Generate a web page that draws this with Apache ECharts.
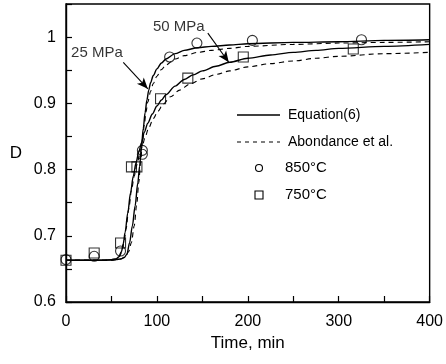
<!DOCTYPE html>
<html><head><meta charset="utf-8">
<script src="https://cdn.jsdelivr.net/npm/echarts@6/dist/echarts.min.js"></script>
<style>html,body{margin:0;padding:0;background:#fff}#c{width:446px;height:364px}</style>
</head><body><div id="c"></div>
<script>
// Equation(6) fits
const eq850 = [[0,0.663],[40,0.663],[50,0.6635],[55,0.664],[60,0.665],[64,0.667],[67,0.672],[70,0.69],[73,0.715],[76,0.745],[79,0.78],[81,0.805],[83,0.835],[85,0.862],[87,0.886],[89,0.905],[91,0.92],[93,0.931],[96,0.942],[100,0.952],[105,0.961],[110,0.967],[120,0.975],[130,0.980],[145,0.984],[160,0.986],[180,0.988],[200,0.990],[250,0.992],[300,0.993],[350,0.995],[400,0.996]];
const eq750 = [[0,0.663],[40,0.663],[50,0.664],[55,0.665],[58,0.668],[61,0.676],[63,0.688],[65,0.705],[68,0.735],[71,0.765],[74,0.79],[77,0.81],[80,0.826],[83,0.84],[86,0.856],[90,0.870],[95,0.884],[100,0.896],[105,0.905],[110,0.913],[120,0.926],[130,0.936],[140,0.943],[150,0.949],[165,0.956],[180,0.962],[200,0.968],[225,0.973],[250,0.977],[275,0.980],[300,0.983],[350,0.986],[400,0.989]];
// Abondance et al.
const ab850 = [[0,0.663],[50,0.663],[60,0.665],[65,0.668],[69,0.676],[72,0.69],[75,0.715],[78,0.75],[80,0.78],[82,0.81],[84,0.84],[86,0.866],[88,0.887],[90,0.902],[93,0.918],[96,0.93],[100,0.941],[105,0.951],[110,0.958],[120,0.967],[130,0.972],[145,0.977],[160,0.980],[180,0.983],[200,0.986],[250,0.989],[300,0.991],[350,0.992],[400,0.993]];
const ab750 = [[0,0.663],[45,0.663],[55,0.665],[59,0.669],[62,0.678],[64,0.692],[66,0.71],[69,0.74],[72,0.768],[75,0.79],[78,0.807],[81,0.822],[84,0.836],[87,0.849],[91,0.863],[96,0.877],[101,0.888],[107,0.899],[115,0.91],[125,0.92],[136,0.929],[150,0.937],[166,0.944],[180,0.949],[200,0.955],[225,0.960],[250,0.964],[275,0.968],[300,0.971],[350,0.975],[400,0.977]];
// Experimental points
const pts850 = [[0,0.664],[31,0.669],[60,0.677],[84,0.829],[84,0.823],[114,0.970],[144,0.991],[205,0.995],[325,0.996]];
const pts750 = [[0,0.663],[31,0.674],[60,0.689],[72,0.804],[78,0.804],[104,0.907],[134,0.938],[195,0.970],[316,0.982]];
// annotations
const labels = [{text:'25 MPa', at:[34,0.976]}, {text:'50 MPa', at:[124,1.015]}];
const arrows = [[[63,0.962],[90,0.922]], [[156,1.006],[179,0.962]]];
const legendItems = ['Equation(6)','Abondance et al.','850°C','750°C'];
const xTicks = [0,100,200,300,400];
const yTicks = [0.6,0.7,0.8,0.9,1];

const FONT = '"Liberation Sans", Arial, Helvetica, sans-serif';
const chart = echarts.init(document.getElementById('c'));
const solid = {type:'solid', width:1.4, color:'#000'};
const dashed = {type:[5,4], width:1.1, color:'#000'};

// legend drawn as graphic
const LX = 237, LY = [115, 142, 168, 195];
const legendGraphic = [
  {type:'line', shape:{x1:LX, y1:LY[0], x2:LX+43, y2:LY[0]}, style:{stroke:'#000', lineWidth:1.3}},
  {type:'line', shape:{x1:LX, y1:LY[1], x2:LX+43, y2:LY[1]}, style:{stroke:'#000', lineWidth:1, lineDash:[4,4]}},
  {type:'circle', shape:{cx:LX+22, cy:LY[2], r:3.5}, style:{stroke:'#000', fill:'#fff', lineWidth:1.1}},
  {type:'rect', shape:{x:LX+18, y:LY[3]-4, width:8, height:8}, style:{stroke:'#000', fill:'#fff', lineWidth:1.1}},
  {type:'text', x:288, y:LY[0], style:{text:legendItems[0], font:'14px '+FONT, fill:'#000', verticalAlign:'middle'}},
  {type:'text', x:288, y:LY[1], style:{text:legendItems[1], font:'14px '+FONT, fill:'#000', verticalAlign:'middle'}},
  {type:'text', x:285, y:LY[2], style:{text:legendItems[2], font:'15px '+FONT, fill:'#000', verticalAlign:'middle'}},
  {type:'text', x:285, y:LY[3], style:{text:legendItems[3], font:'15px '+FONT, fill:'#000', verticalAlign:'middle'}}
];

chart.setOption({
  animation:false,
  backgroundColor:'#fff',
  textStyle:{fontFamily:FONT, color:'#000'},
  grid:{left:66, right:16, top:4, bottom:62, show:true, borderColor:'#000', borderWidth:1.4},
  graphic:legendGraphic,
  xAxis:{type:'value', min:0, max:400, interval:100,
    name:'Time, min', nameLocation:'middle', nameGap:32,
    nameTextStyle:{fontFamily:FONT, fontSize:17, color:'#000'},
    axisLine:{show:true, lineStyle:{color:'#000', width:1.4}},
    axisTick:{inside:true, length:6, lineStyle:{color:'#000', width:1.2}},
    minorTick:{show:true, splitNumber:2, length:6, lineStyle:{color:'#000', width:1.2}},
    splitLine:{show:false},
    axisLabel:{fontFamily:FONT, fontSize:16, color:'#000', margin:12,
      formatter:v=> xTicks.includes(v)? String(v):''}
  },
  yAxis:{type:'value', min:0.6, max:1.05, interval:0.1,
    name:'D', nameLocation:'middle', nameRotate:0, nameGap:44,
    nameTextStyle:{fontFamily:FONT, fontSize:17, color:'#000', align:'right'},
    axisLine:{show:true, lineStyle:{color:'#000', width:1.4}},
    axisTick:{inside:true, length:6, lineStyle:{color:'#000', width:1.2}},
    minorTick:{show:true, splitNumber:2, length:6, lineStyle:{color:'#000', width:1.2}},
    splitLine:{show:false},
    axisLabel:{fontFamily:FONT, fontSize:16, color:'#000', margin:10,
      formatter:v=>{ const r=Math.round(v*10)/10; return (Math.abs(v-r)<1e-6 && yTicks.includes(r)) ? String(r):''; }}
  },
  series:[
    {name:'Equation(6)', type:'line', data:eq850, showSymbol:false, symbol:'none', smooth:0.3, smoothMonotone:'x', lineStyle:solid, z:3,
      markLine:{silent:true, symbol:['none','arrow'], symbolSize:[7,11], label:{show:false},
        lineStyle:{color:'#000', width:1.1, type:'solid'},
        data:arrows.map(a=>[{coord:a[0]},{coord:a[1]}])}},
    {name:'Equation(6)', type:'line', data:eq750, showSymbol:false, symbol:'none', smooth:0.3, smoothMonotone:'x', lineStyle:solid, z:3},
    {name:'Abondance et al.', type:'line', data:ab850, showSymbol:false, symbol:'none', smooth:0.3, smoothMonotone:'x', lineStyle:dashed, z:3},
    {name:'Abondance et al.', type:'line', data:ab750, showSymbol:false, symbol:'none', smooth:0.3, smoothMonotone:'x', lineStyle:dashed, z:3},
    {name:'850°C', type:'scatter', data:pts850, symbol:'circle', symbolSize:10,
      itemStyle:{color:'rgba(255,255,255,0)', borderColor:'#000', borderWidth:1.1}, z:4},
    {name:'750°C', type:'scatter', data:pts750, symbol:'rect', symbolSize:10,
      itemStyle:{color:'rgba(255,255,255,0)', borderColor:'#000', borderWidth:1.1}, z:4},
    {name:'labels', type:'scatter', data:labels.map(l=>({value:l.at, name:l.text})), symbolSize:0,
      label:{show:true, position:'inside', formatter:p=>p.name, fontFamily:FONT, fontSize:15, color:'#000'}, z:5, silent:true}
  ]
});
</script></body></html>
